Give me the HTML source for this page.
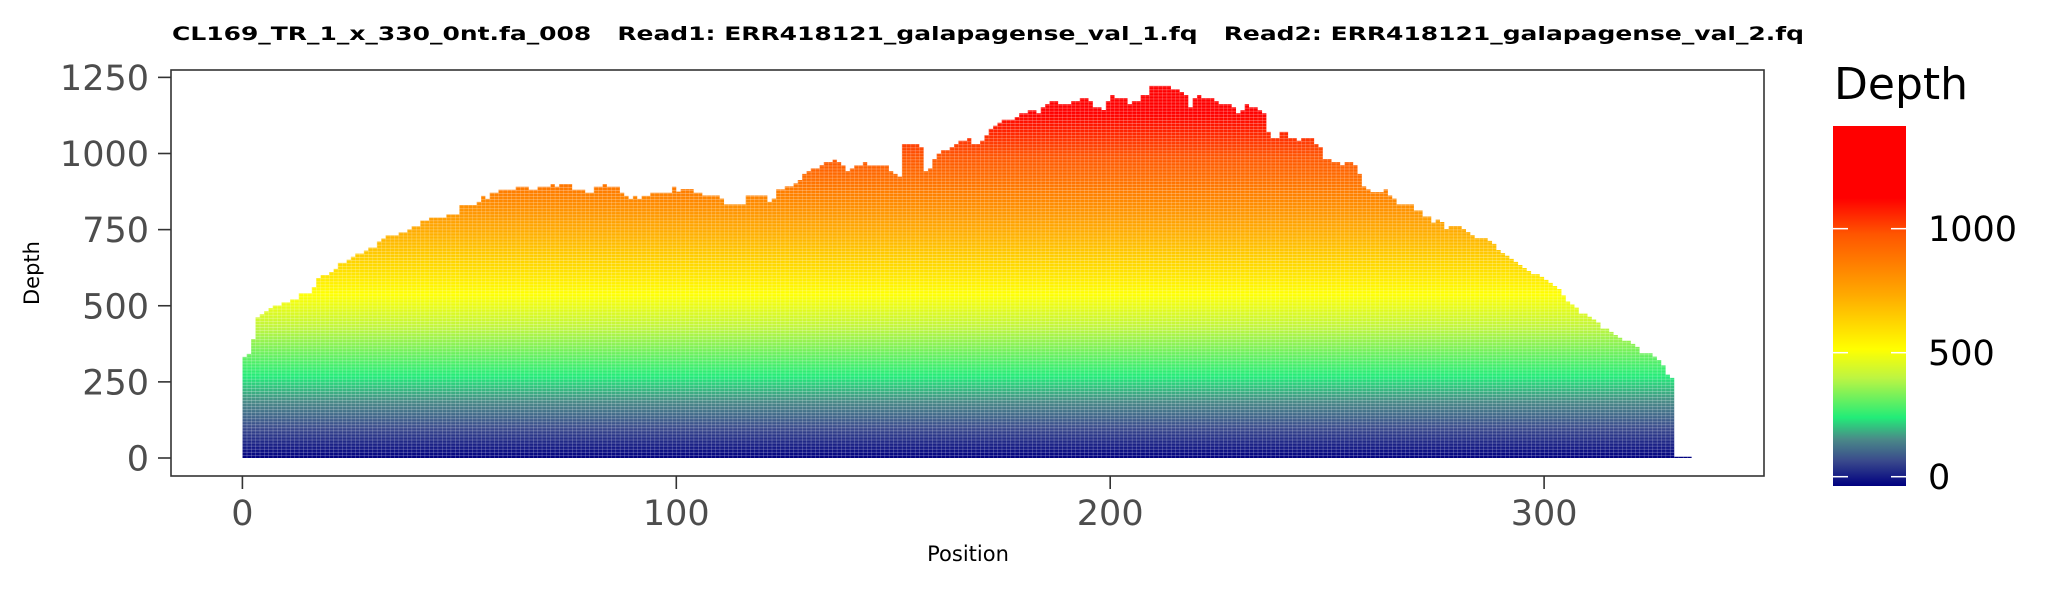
<!DOCTYPE html>
<html><head><meta charset="utf-8"><style>
html,body{margin:0;padding:0;background:#fff;}
svg{display:block;font-family:"DejaVu Sans","Liberation Sans",sans-serif;}
.pre{white-space:pre;}
</style></head><body>
<svg id="chart" width="2066" height="590" viewBox="0 0 2066 590">
<defs>
<linearGradient id="depthGrad" gradientUnits="userSpaceOnUse" x1="0" y1="458" x2="0" y2="27.5">
<stop offset="0" stop-color="#000080"/>
<stop offset="0.07" stop-color="#3a4a8c"/>
<stop offset="0.13" stop-color="#4a8a88"/>
<stop offset="0.19" stop-color="#22ec78"/>
<stop offset="0.30" stop-color="#bdf542"/>
<stop offset="0.38" stop-color="#ffff00"/>
<stop offset="0.53" stop-color="#ffaa00"/>
<stop offset="0.70" stop-color="#ff5500"/>
<stop offset="0.80" stop-color="#ff0000"/>
<stop offset="1" stop-color="#ff0000"/>
</linearGradient>
<linearGradient id="legGrad" x1="0" y1="1" x2="0" y2="0">
<stop offset="0" stop-color="#000080"/>
<stop offset="0.07" stop-color="#3a4a8c"/>
<stop offset="0.13" stop-color="#4a8a88"/>
<stop offset="0.19" stop-color="#22ec78"/>
<stop offset="0.30" stop-color="#bdf542"/>
<stop offset="0.38" stop-color="#ffff00"/>
<stop offset="0.53" stop-color="#ffaa00"/>
<stop offset="0.70" stop-color="#ff5500"/>
<stop offset="0.80" stop-color="#ff0000"/>
<stop offset="1" stop-color="#ff0000"/>
</linearGradient>
<pattern id="tiles" patternUnits="userSpaceOnUse" x="242.4" y="458" width="4.339" height="3.045">
<rect x="0" y="0" width="4.339" height="0.6" fill="#fff" fill-opacity="0.4"/>
<rect x="0" y="0" width="0.5" height="3.045" fill="#fff" fill-opacity="0.35"/>
</pattern>
</defs>
<text class="pre" xml:space="preserve" x="988" y="40" text-anchor="middle" font-size="19" font-weight="bold" fill="#000" textLength="1632" lengthAdjust="spacingAndGlyphs">CL169_TR_1_x_330_0nt.fa_008   Read1: ERR418121_galapagense_val_1.fq   Read2: ERR418121_galapagense_val_2.fq</text>
<g id="bars"></g>
<rect x="171" y="70" width="1593" height="406" fill="none" stroke="#333" stroke-width="1.6"/>
<g id="yaxis"></g>
<g id="xaxis"></g>
<text x="968" y="561" text-anchor="middle" font-size="21" fill="#000">Position</text>
<text x="0" y="0" transform="translate(39,273) rotate(-90)" text-anchor="middle" font-size="21" fill="#000">Depth</text>
<g>
<text x="1834" y="99" font-size="44" fill="#000">Depth</text>
<rect x="1833" y="126" width="73" height="360" fill="url(#legGrad)"/>
<g id="legticks"></g>
</g>
<script>
const positions = [];
const depths = [332,342,391,462,472,482,492,501,501,511,511,521,521,541,541,541,561,591,601,601,611,621,641,641,651,661,671,671,681,691,691,711,721,731,731,731,741,741,751,761,761,780,780,790,790,790,790,800,800,800,831,831,831,831,841,861,851,871,871,881,881,881,881,891,891,891,881,881,891,891,891,900,891,900,900,900,881,881,881,871,871,891,891,900,891,891,891,871,861,851,861,851,861,861,871,871,871,871,871,891,875,883,883,883,871,871,862,862,862,862,852,833,833,833,833,833,862,862,862,862,862,841,852,882,882,892,892,902,913,933,942,951,951,962,972,972,980,972,961,942,951,961,961,972,961,961,961,961,961,942,933,924,1031,1031,1031,1031,1021,942,951,982,1000,1011,1011,1021,1031,1042,1042,1051,1031,1031,1042,1060,1081,1091,1101,1111,1111,1111,1120,1132,1132,1142,1142,1132,1152,1162,1172,1172,1162,1162,1162,1172,1172,1182,1182,1172,1152,1152,1143,1172,1192,1182,1182,1182,1162,1172,1172,1192,1192,1222,1222,1222,1222,1222,1211,1211,1202,1192,1152,1182,1192,1182,1182,1182,1172,1162,1162,1162,1152,1132,1142,1162,1152,1152,1142,1132,1071,1051,1051,1071,1071,1051,1051,1042,1051,1051,1051,1031,1021,982,982,972,972,962,972,972,962,933,892,882,873,873,873,882,862,852,833,833,833,833,813,813,793,793,773,783,775,752,762,762,762,752,742,732,722,722,722,713,703,683,673,664,654,644,634,624,614,604,604,595,585,575,565,555,534,514,504,494,474,474,464,455,445,425,425,414,404,395,385,385,375,365,344,344,344,333,322,304,274,263,4,4,4,4];
for (let i = 0; i < depths.length; i++) positions.push(i);
const xTicks = [0,100,200,300];
const yTicks = [0,250,500,750,1000,1250];
const yTickLabels = ["0","250","500","750","1000","1250"];
const legendTicks = [0,500,1000];
const legendMax = 1414;

const NS = "http://www.w3.org/2000/svg";
const xScale = v => 242.4 + v * 4.339;
const yScale = v => 458 - v * 0.3045;
const legScale = v => 476.7 - v * (350.7 / legendMax);

const bars = document.getElementById('bars');
let d = "";
positions.forEach((p, i) => {
  const x0 = xScale(p), x1 = xScale(p + 1), y = yScale(depths[i]);
  d += `M${x0},${yScale(0)}L${x0},${y}L${x1},${y}L${x1},${yScale(0)}Z`;
});
const fillPath = document.createElementNS(NS, 'path');
fillPath.setAttribute('d', d);
fillPath.setAttribute('fill', 'url(#depthGrad)');


bars.appendChild(fillPath);
const tilePath = document.createElementNS(NS, 'path');
tilePath.setAttribute('d', d);
tilePath.setAttribute('fill', 'url(#tiles)');


bars.appendChild(tilePath);

const yaxis = document.getElementById('yaxis');
yTicks.forEach((v, i) => {
  const y = yScale(v);
  const l = document.createElementNS(NS, 'line');
  l.setAttribute('x1', 158); l.setAttribute('x2', 171);
  l.setAttribute('y1', y); l.setAttribute('y2', y);
  l.setAttribute('stroke', '#333'); l.setAttribute('stroke-width', '1.6');
  
  
  yaxis.appendChild(l);
  const t = document.createElementNS(NS, 'text');
  t.setAttribute('x', 149); t.setAttribute('y', y + 12.5);
  t.setAttribute('text-anchor', 'end'); t.setAttribute('font-size', '35');
  t.setAttribute('fill', '#4d4d4d');
  t.textContent = yTickLabels[i];
  
  
  yaxis.appendChild(t);
});
const xaxis = document.getElementById('xaxis');
xTicks.forEach(v => {
  const x = xScale(v);
  const l = document.createElementNS(NS, 'line');
  l.setAttribute('x1', x); l.setAttribute('x2', x);
  l.setAttribute('y1', 476); l.setAttribute('y2', 489);
  l.setAttribute('stroke', '#333'); l.setAttribute('stroke-width', '1.6');
  
  
  xaxis.appendChild(l);
  const t = document.createElementNS(NS, 'text');
  t.setAttribute('x', x); t.setAttribute('y', 525);
  t.setAttribute('text-anchor', 'middle'); t.setAttribute('font-size', '35');
  t.setAttribute('fill', '#4d4d4d');
  t.textContent = String(v);
  
  
  xaxis.appendChild(t);
});
const lt = document.getElementById('legticks');
legendTicks.forEach(v => {
  const y = legScale(v);
  [[1833, 1848], [1891, 1906]].forEach(([a, b]) => {
    const l = document.createElementNS(NS, 'line');
    l.setAttribute('x1', a); l.setAttribute('x2', b);
    l.setAttribute('y1', y); l.setAttribute('y2', y);
    l.setAttribute('stroke', '#fff'); l.setAttribute('stroke-width', '1.5');
    
    
    lt.appendChild(l);
  });
  const t = document.createElementNS(NS, 'text');
  t.setAttribute('x', 1928); t.setAttribute('y', y + 12.5);
  t.setAttribute('font-size', '35'); t.setAttribute('fill', '#000');
  t.textContent = String(v);
  
  
  lt.appendChild(t);
});
</script>
</svg>
</body></html>
